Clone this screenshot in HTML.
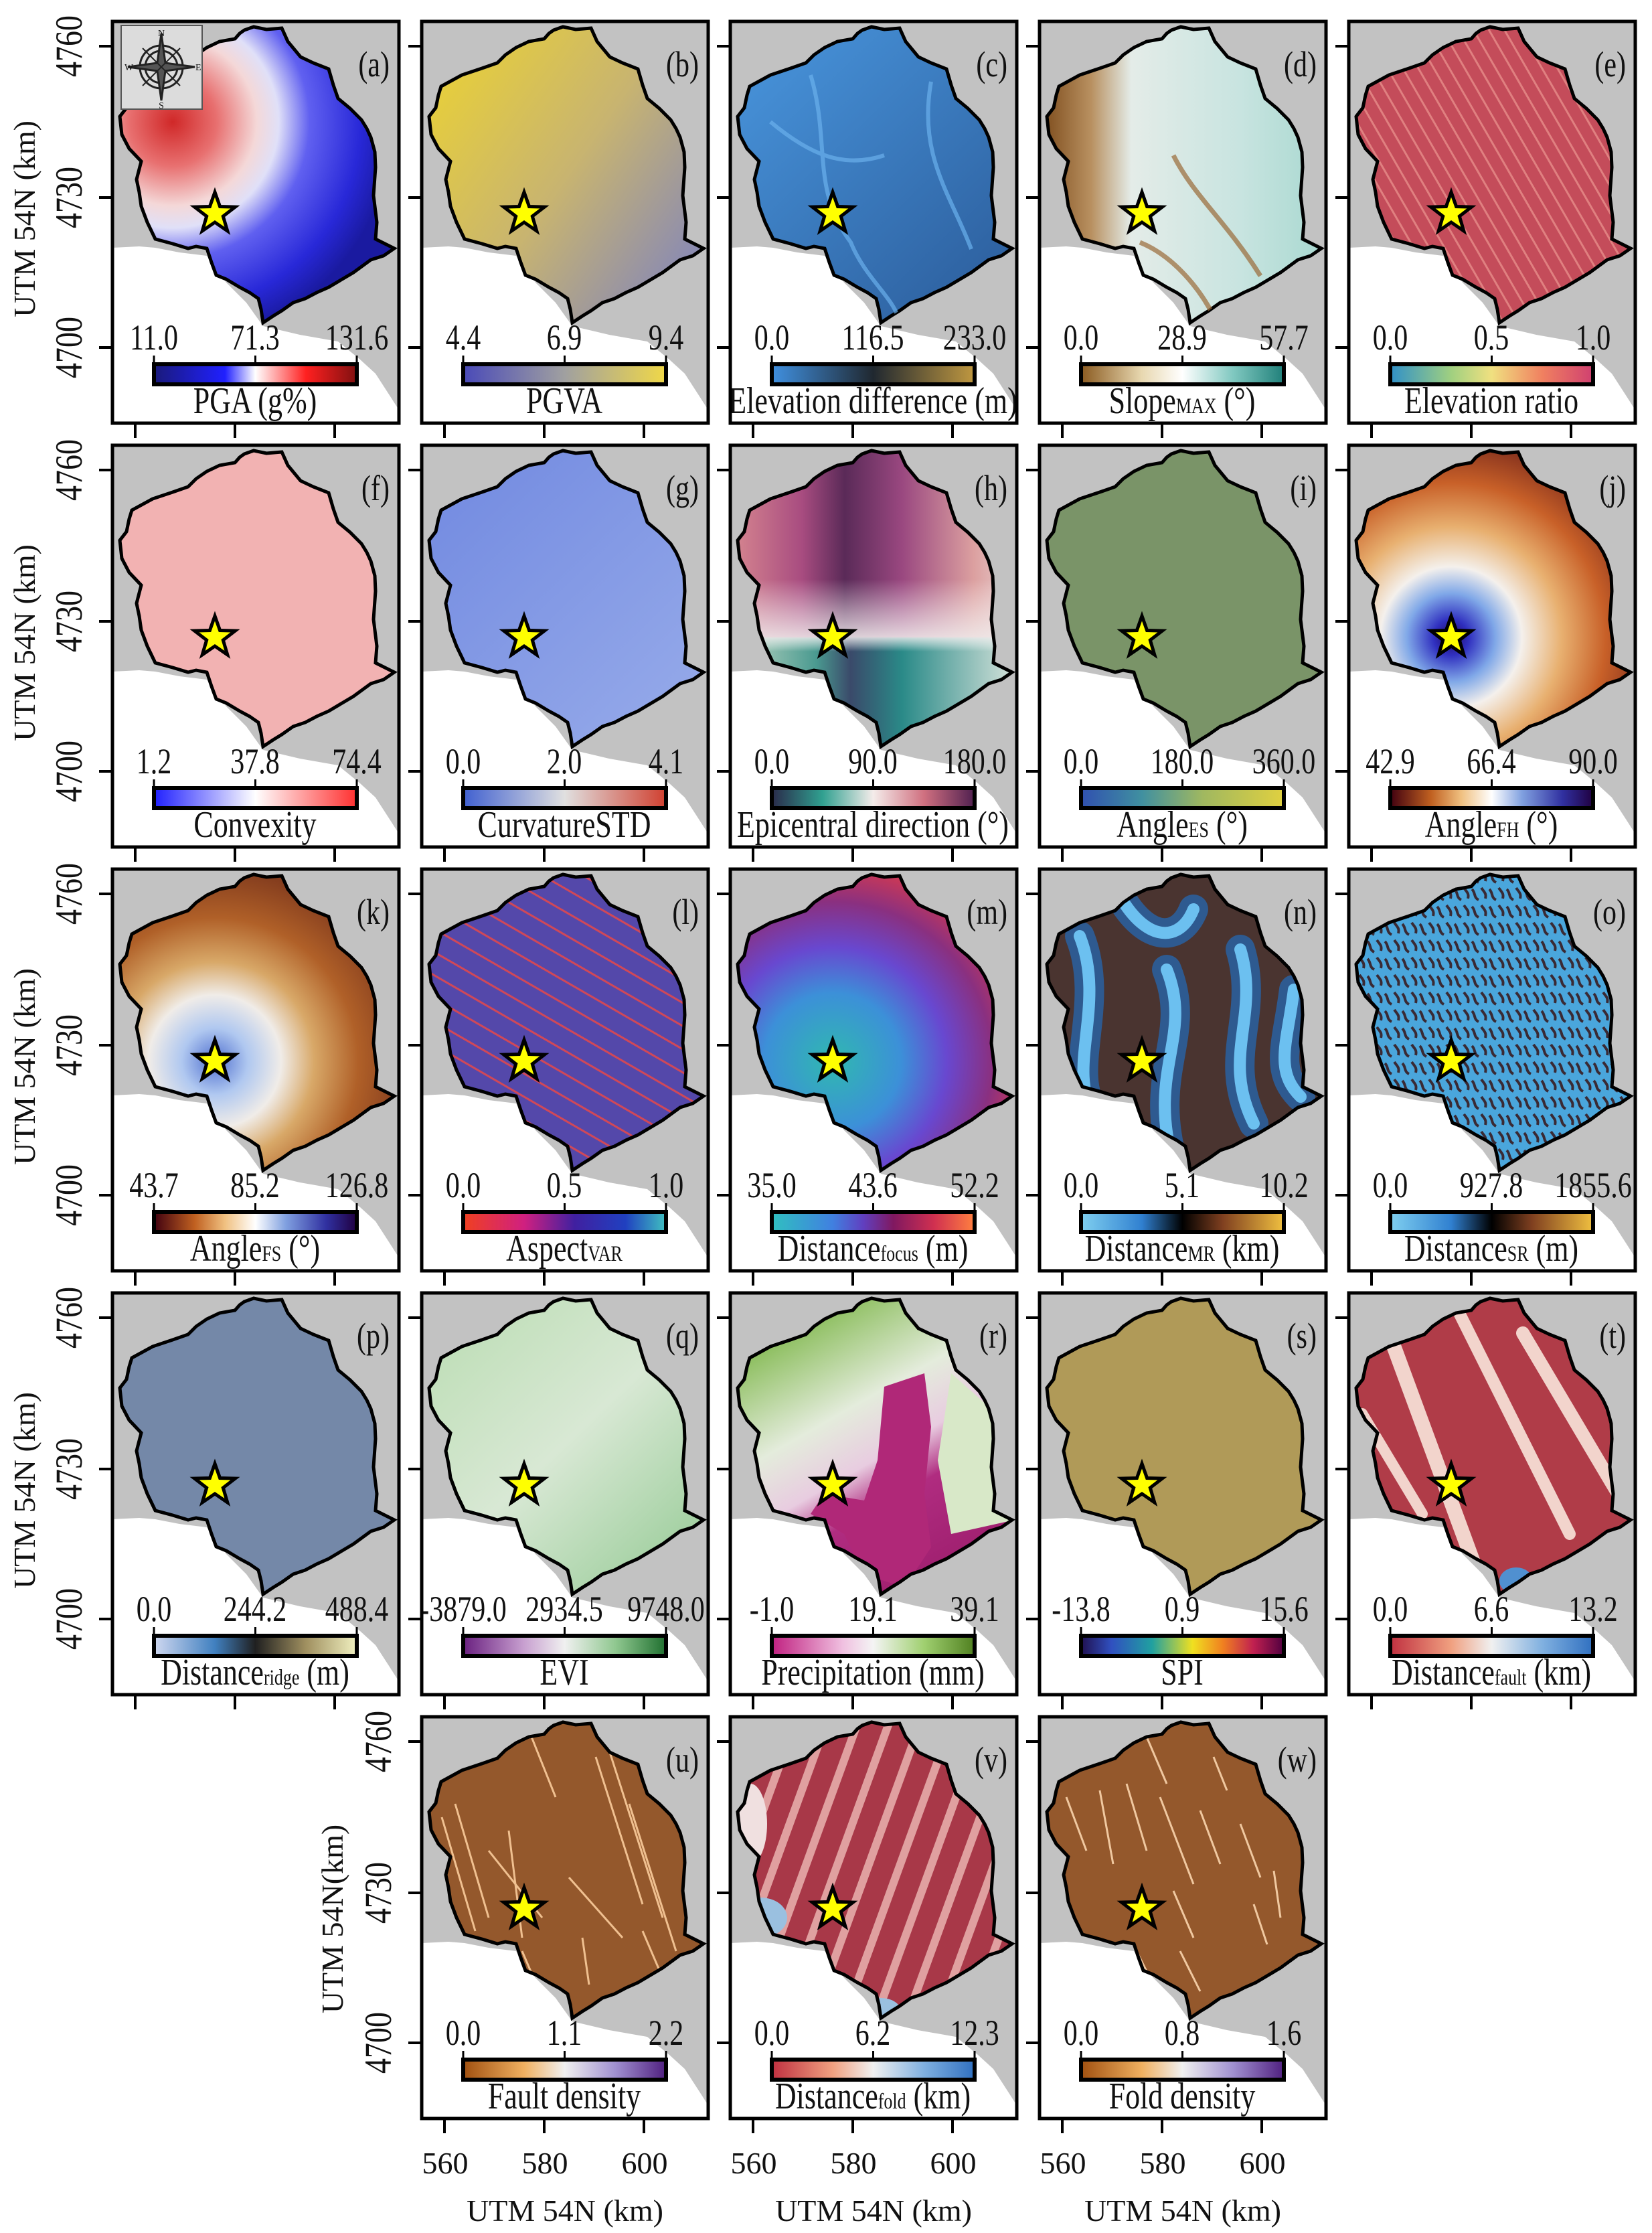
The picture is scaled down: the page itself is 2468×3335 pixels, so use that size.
<!DOCTYPE html>
<html><head><meta charset="utf-8"><style>
html,body{margin:0;padding:0;background:#fff}
svg{display:block}
text{font-family:"Liberation Serif",serif;fill:#111}
.tk{font-size:42px;text-anchor:middle}
.lb{font-size:44px;text-anchor:middle}
.pl{font-size:42px;text-anchor:end}
.tk,.lb,.pl{transform-box:fill-box;transform-origin:50% 80%;transform:scaleY(1.28)}
.ax{font-size:46px;text-anchor:middle}
</style></head><body>
<svg width="2468" height="3335" viewBox="0 0 2468 3335" xmlns="http://www.w3.org/2000/svg">
<defs>
<path id="cat" d="M211,8 L230,12 L253,10 L262,30 L281,53 L300,62 L323,71 L330,95 L337,115 L355,130 L372,147 L380,160 L386,173 L392,195 L393,218 L390,260 L395,300 L393,325 L421,339 L405,350 L386,356 L360,375 L323,397 L305,405 L288,414 L270,420 L253,432 L240,440 L225,450 L222,430 L218,414 L205,405 L190,397 L170,385 L155,379 L148,360 L141,339 L125,336 L113,339 L90,332 L64,325 L52,300 L43,276 L40,255 L36,236 L43,209 L25,190 L14,169 L11,142 L21,129 L25,110 L29,97 L60,80 L90,70 L113,62 L125,50 L141,39 L160,30 L183,26 L190,18 L197,13 Z"/>
<path id="sea" d="M0,338 L40,336 L64,338 L100,345 L141,350 L170,390 L200,420 L225,455 L280,468 L337,478 L370,505 L393,526 L415,560 L431,585 L431,605 L-3,605 Z"/>
<polygon id="star" points="153,255 160.6,276.5 183.4,277.1 165.3,291 171.8,312.9 153,300 134.2,312.9 140.7,291 122.6,277.1 145.4,276.5" fill="#ffff00" stroke="#000" stroke-width="5" stroke-linejoin="miter"/>
<clipPath id="cc"><use href="#cat"/></clipPath>
<g id="frame"><rect width="428" height="600" fill="none" stroke="#000" stroke-width="5"/><path d="M34,600v22M183,600v22M332,600v22M0,37h-20M0,263h-20M0,487h-20" stroke="#000" stroke-width="4"/></g>
<path id="cbt" d="M62,512V499M213.5,512V499M365,512V499" stroke="#000" stroke-width="3"/>
<radialGradient id="fa" gradientUnits="userSpaceOnUse" cx="90" cy="150" r="330"><stop offset="0" stop-color="#d02828"/><stop offset=".2" stop-color="#e87070"/><stop offset=".38" stop-color="#f4d8d8"/><stop offset=".48" stop-color="#e0e0f8"/><stop offset=".62" stop-color="#6060f0"/><stop offset=".85" stop-color="#2828d8"/><stop offset="1" stop-color="#1a1aa0"/></radialGradient>
<linearGradient id="fb" gradientUnits="userSpaceOnUse" x1="40" y1="100" x2="400" y2="350"><stop offset="0" stop-color="#e4cc40"/><stop offset=".5" stop-color="#c8b470"/><stop offset="1" stop-color="#8c8cb0"/></linearGradient>
<linearGradient id="fc" gradientUnits="userSpaceOnUse" x1="0" y1="0" x2="428" y2="450"><stop offset="0" stop-color="#4a98e0"/><stop offset="1" stop-color="#2a5a98"/></linearGradient>
<linearGradient id="fd" gradientUnits="userSpaceOnUse" x1="0" y1="0" x2="428" y2="0"><stop offset="0" stop-color="#7a4818"/><stop offset=".18" stop-color="#b89060"/><stop offset=".32" stop-color="#e4ece8"/><stop offset=".7" stop-color="#c8e4e0"/><stop offset="1" stop-color="#a8d8d0"/></linearGradient>
<linearGradient id="fg" gradientUnits="userSpaceOnUse" x1="0" y1="0" x2="428" y2="450"><stop offset="0" stop-color="#7088e0"/><stop offset="1" stop-color="#98acea"/></linearGradient>
<linearGradient id="fht" gradientUnits="userSpaceOnUse" x1="0" y1="0" x2="428" y2="0"><stop offset="0" stop-color="#d88890"/><stop offset=".25" stop-color="#a84c80"/><stop offset=".4" stop-color="#5a2a58"/><stop offset=".6" stop-color="#9a4880"/><stop offset=".85" stop-color="#dca0a0"/><stop offset="1" stop-color="#e8d0d0"/></linearGradient>
<linearGradient id="fhb" gradientUnits="userSpaceOnUse" x1="0" y1="0" x2="428" y2="0"><stop offset="0" stop-color="#c8dcc8"/><stop offset=".3" stop-color="#4a9a90"/><stop offset=".42" stop-color="#3a4a6a"/><stop offset=".6" stop-color="#2a8a88"/><stop offset="1" stop-color="#d8e4dc"/></linearGradient>
<linearGradient id="fhv" gradientUnits="userSpaceOnUse" x1="0" y1="200" x2="0" y2="380"><stop offset="0" stop-color="#fff" stop-opacity="0"/><stop offset=".48" stop-color="#f0ecec" stop-opacity=".85"/><stop offset=".6" stop-color="#fff" stop-opacity="0"/></linearGradient>
<radialGradient id="fj" gradientUnits="userSpaceOnUse" cx="153" cy="287" r="330"><stop offset="0" stop-color="#200860"/><stop offset=".08" stop-color="#3030c0"/><stop offset=".2" stop-color="#80a8e8"/><stop offset=".32" stop-color="#f4f0ec"/><stop offset=".5" stop-color="#e8b070"/><stop offset=".7" stop-color="#c86028"/><stop offset="1" stop-color="#601818"/></radialGradient>
<radialGradient id="fk" gradientUnits="userSpaceOnUse" cx="153" cy="287" r="330"><stop offset="0" stop-color="#5070d0"/><stop offset=".15" stop-color="#b0c8f0"/><stop offset=".3" stop-color="#f0ece8"/><stop offset=".45" stop-color="#d8a868"/><stop offset=".65" stop-color="#b06028"/><stop offset="1" stop-color="#6a2818"/></radialGradient>
<radialGradient id="fm" gradientUnits="userSpaceOnUse" cx="153" cy="287" r="340"><stop offset="0" stop-color="#30b8b0"/><stop offset=".3" stop-color="#3c90d8"/><stop offset=".5" stop-color="#6848d0"/><stop offset=".7" stop-color="#8a3080"/><stop offset=".85" stop-color="#c83858"/><stop offset="1" stop-color="#f05040"/></radialGradient>
<linearGradient id="fq" gradientUnits="userSpaceOnUse" x1="0" y1="0" x2="428" y2="450"><stop offset="0" stop-color="#b8dcb0"/><stop offset=".5" stop-color="#d8e8d4"/><stop offset="1" stop-color="#90c890"/></linearGradient>
<linearGradient id="fr" gradientUnits="userSpaceOnUse" x1="40" y1="80" x2="250" y2="450"><stop offset="0" stop-color="#88bc58"/><stop offset=".35" stop-color="#e4ecdc"/><stop offset=".55" stop-color="#e8cce0"/><stop offset=".7" stop-color="#b02c80"/><stop offset="1" stop-color="#a02070"/></linearGradient>
<pattern id="po" width="26" height="26" patternUnits="userSpaceOnUse"><rect width="26" height="26" fill="#4aa6dc"/><path d="M2,4 C8,10 4,16 12,20 M16,2 C20,8 24,10 22,18" stroke="#3a2a34" stroke-width="4" fill="none"/></pattern>
<pattern id="pl" width="30" height="30" patternUnits="userSpaceOnUse" patternTransform="rotate(30)"><rect width="30" height="30" fill="#5448aa"/><path d="M0,8 H30" stroke="#d04858" stroke-width="3"/></pattern>
<pattern id="pv" width="44" height="44" patternUnits="userSpaceOnUse" patternTransform="rotate(20)"><rect width="44" height="44" fill="#a83848"/><rect x="0" y="0" width="12" height="44" fill="#e0a0a0"/></pattern>
<pattern id="pe" width="20" height="20" patternUnits="userSpaceOnUse" patternTransform="rotate(60)"><rect width="20" height="20" fill="#c44c5a"/><path d="M0,5 H20" stroke="#e08080" stroke-width="3"/></pattern>
<linearGradient id="ca"><stop offset="0" stop-color="#1a1a7a"/><stop offset=".35" stop-color="#2020ff"/><stop offset=".5" stop-color="#fff"/><stop offset=".75" stop-color="#ff2020"/><stop offset="1" stop-color="#801010"/></linearGradient>
<linearGradient id="cb"><stop offset="0" stop-color="#4a4ab8"/><stop offset=".5" stop-color="#a0a0a0"/><stop offset="1" stop-color="#f0d848"/></linearGradient>
<linearGradient id="cc2"><stop offset="0" stop-color="#4090e0"/><stop offset=".5" stop-color="#202830"/><stop offset="1" stop-color="#c09840"/></linearGradient>
<linearGradient id="cd"><stop offset="0" stop-color="#8a5a20"/><stop offset=".3" stop-color="#e8d8b0"/><stop offset=".5" stop-color="#fff"/><stop offset=".75" stop-color="#80c8c0"/><stop offset="1" stop-color="#20807a"/></linearGradient>
<linearGradient id="ce"><stop offset="0" stop-color="#3090c8"/><stop offset=".3" stop-color="#a0d080"/><stop offset=".5" stop-color="#f0e080"/><stop offset=".75" stop-color="#f08060"/><stop offset="1" stop-color="#d04070"/></linearGradient>
<linearGradient id="cf"><stop offset="0" stop-color="#2020ff"/><stop offset=".5" stop-color="#fff"/><stop offset="1" stop-color="#ff3030"/></linearGradient>
<linearGradient id="cg"><stop offset="0" stop-color="#4060d0"/><stop offset=".5" stop-color="#e0e0e0"/><stop offset="1" stop-color="#d04030"/></linearGradient>
<linearGradient id="ch"><stop offset="0" stop-color="#2a2a4a"/><stop offset=".25" stop-color="#30a090"/><stop offset=".5" stop-color="#f4ecea"/><stop offset=".75" stop-color="#d07080"/><stop offset="1" stop-color="#502050"/></linearGradient>
<linearGradient id="ci"><stop offset="0" stop-color="#3050b0"/><stop offset=".3" stop-color="#4090a0"/><stop offset=".6" stop-color="#a0b860"/><stop offset="1" stop-color="#e0d040"/></linearGradient>
<linearGradient id="cj"><stop offset="0" stop-color="#400010"/><stop offset=".2" stop-color="#c06020"/><stop offset=".35" stop-color="#f0c080"/><stop offset=".5" stop-color="#fff"/><stop offset=".65" stop-color="#80a0e0"/><stop offset=".85" stop-color="#3030a0"/><stop offset="1" stop-color="#200040"/></linearGradient>
<linearGradient id="cl"><stop offset="0" stop-color="#f04020"/><stop offset=".3" stop-color="#d02080"/><stop offset=".55" stop-color="#4020a0"/><stop offset=".8" stop-color="#2040c0"/><stop offset="1" stop-color="#40c0c0"/></linearGradient>
<linearGradient id="cm"><stop offset="0" stop-color="#30c0c0"/><stop offset=".3" stop-color="#4080e0"/><stop offset=".45" stop-color="#6040c0"/><stop offset=".6" stop-color="#801860"/><stop offset=".8" stop-color="#d03050"/><stop offset="1" stop-color="#ff8040"/></linearGradient>
<linearGradient id="cn"><stop offset="0" stop-color="#80d0f0"/><stop offset=".3" stop-color="#3080d0"/><stop offset=".5" stop-color="#000"/><stop offset=".7" stop-color="#804020"/><stop offset="1" stop-color="#f0c040"/></linearGradient>
<linearGradient id="cp"><stop offset="0" stop-color="#d0d8f0"/><stop offset=".3" stop-color="#4080c0"/><stop offset=".5" stop-color="#202020"/><stop offset=".75" stop-color="#a09060"/><stop offset="1" stop-color="#f0f0c0"/></linearGradient>
<linearGradient id="cq"><stop offset="0" stop-color="#6a2080"/><stop offset=".3" stop-color="#c8a0d0"/><stop offset=".5" stop-color="#f0f0f0"/><stop offset=".75" stop-color="#90c890"/><stop offset="1" stop-color="#207030"/></linearGradient>
<linearGradient id="cr"><stop offset="0" stop-color="#c02080"/><stop offset=".35" stop-color="#f0c0e0"/><stop offset=".5" stop-color="#f4f4f4"/><stop offset=".75" stop-color="#a0d070"/><stop offset="1" stop-color="#508020"/></linearGradient>
<linearGradient id="cs"><stop offset="0" stop-color="#201050"/><stop offset=".15" stop-color="#3050c0"/><stop offset=".35" stop-color="#20a0a0"/><stop offset=".55" stop-color="#f0e020"/><stop offset=".7" stop-color="#f08020"/><stop offset=".85" stop-color="#c02050"/><stop offset="1" stop-color="#500040"/></linearGradient>
<linearGradient id="ct"><stop offset="0" stop-color="#c03040"/><stop offset=".3" stop-color="#f0a080"/><stop offset=".5" stop-color="#f0f0f0"/><stop offset=".75" stop-color="#80b0e0"/><stop offset="1" stop-color="#3070c0"/></linearGradient>
<linearGradient id="cu"><stop offset="0" stop-color="#a05010"/><stop offset=".3" stop-color="#f0b060"/><stop offset=".5" stop-color="#f0f0f0"/><stop offset=".75" stop-color="#a090d0"/><stop offset="1" stop-color="#502080"/></linearGradient>
</defs>

<g>
<text class="ax" transform="translate(52,327) rotate(-90)">UTM 54N (km)</text>
<text class="ax" transform="translate(52,960) rotate(-90)">UTM 54N (km)</text>
<text class="ax" transform="translate(52,1593) rotate(-90)">UTM 54N (km)</text>
<text class="ax" transform="translate(52,2226) rotate(-90)">UTM 54N (km)</text>
<text class="ax" transform="translate(512,2866) rotate(-90)">UTM 54N(km)</text>
</g>
<g>
<text class="ax" transform="translate(122,69) rotate(-90) scale(1,1.25)">4760</text><text class="ax" transform="translate(122,295) rotate(-90) scale(1,1.25)">4730</text><text class="ax" transform="translate(122,519) rotate(-90) scale(1,1.25)">4700</text>
<text class="ax" transform="translate(122,702) rotate(-90) scale(1,1.25)">4760</text><text class="ax" transform="translate(122,928) rotate(-90) scale(1,1.25)">4730</text><text class="ax" transform="translate(122,1152) rotate(-90) scale(1,1.25)">4700</text>
<text class="ax" transform="translate(122,1335) rotate(-90) scale(1,1.25)">4760</text><text class="ax" transform="translate(122,1561) rotate(-90) scale(1,1.25)">4730</text><text class="ax" transform="translate(122,1785) rotate(-90) scale(1,1.25)">4700</text>
<text class="ax" transform="translate(122,1968) rotate(-90) scale(1,1.25)">4760</text><text class="ax" transform="translate(122,2194) rotate(-90) scale(1,1.25)">4730</text><text class="ax" transform="translate(122,2418) rotate(-90) scale(1,1.25)">4700</text>
<text class="ax" transform="translate(584,2601) rotate(-90) scale(1,1.25)">4760</text><text class="ax" transform="translate(584,2827) rotate(-90) scale(1,1.25)">4730</text><text class="ax" transform="translate(584,3051) rotate(-90) scale(1,1.25)">4700</text>
</g>
<g>
<text class="ax" x="665" y="3246">560</text><text class="ax" x="814" y="3246">580</text><text class="ax" x="963" y="3246">600</text>
<text class="ax" x="1126" y="3246">560</text><text class="ax" x="1275" y="3246">580</text><text class="ax" x="1424" y="3246">600</text>
<text class="ax" x="1588" y="3246">560</text><text class="ax" x="1737" y="3246">580</text><text class="ax" x="1886" y="3246">600</text>
<text class="ax" x="844" y="3317">UTM 54N (km)</text>
<text class="ax" x="1305" y="3317">UTM 54N (km)</text>
<text class="ax" x="1767" y="3317">UTM 54N (km)</text>
</g>

<g transform="translate(168,32)">
<rect width="428" height="600" fill="#c2c2c2"/><use href="#sea" fill="#fff"/>
<use href="#cat" fill="url(#fa)" stroke="#000" stroke-width="5"/>
<rect x="13" y="6" width="121" height="125" fill="#dcdcdc" stroke="#555" stroke-width="2"/>
<g transform="translate(73,68)" stroke="#222" fill="none" stroke-width="3"><circle r="32"/><circle r="24"/><path d="M0,-50 L6,-6 L50,0 L6,6 L0,50 L-6,6 L-50,0 L-6,-6 Z" fill="#555"/><path d="M-28,-28 L28,28 M28,-28 L-28,28" stroke-width="2"/></g>
<text x="73" y="22" font-size="14" text-anchor="middle">N</text><text x="73" y="130" font-size="14" text-anchor="middle">S</text><text x="18" y="73" font-size="14">W</text><text x="124" y="73" font-size="14">E</text>
<use href="#star"/>
<text class="pl" x="414" y="82">(a)</text>
<rect x="62" y="512" width="303" height="30" fill="url(#ca)" stroke="#000" stroke-width="6"/><use href="#cbt"/>
<text class="tk" x="62" y="490">11.0</text><text class="tk" x="213" y="490">71.3</text><text class="tk" x="365" y="490">131.6</text>
<text class="lb" x="213" y="585">PGA (g%)</text>
<use href="#frame"/></g>

<g transform="translate(630,32)">
<rect width="428" height="600" fill="#c2c2c2"/><use href="#sea" fill="#fff"/>
<use href="#cat" fill="url(#fb)" stroke="#000" stroke-width="5"/>
<use href="#star"/><text class="pl" x="414" y="82">(b)</text>
<rect x="62" y="512" width="303" height="30" fill="url(#cb)" stroke="#000" stroke-width="6"/><use href="#cbt"/>
<text class="tk" x="62" y="490">4.4</text><text class="tk" x="213" y="490">6.9</text><text class="tk" x="365" y="490">9.4</text>
<text class="lb" x="213" y="585">PGVA</text>
<use href="#frame"/></g>

<g transform="translate(1091,32)">
<rect width="428" height="600" fill="#c2c2c2"/><use href="#sea" fill="#fff"/>
<use href="#cat" fill="url(#fc)" stroke="#000" stroke-width="5"/>
<g clip-path="url(#cc)" stroke="#6ab0ec" stroke-width="6" fill="none" opacity=".7"><path d="M120,80 C150,180 120,250 180,330 C200,380 240,410 250,440"/><path d="M300,90 C280,200 330,260 360,340"/><path d="M60,150 C120,200 170,220 230,200"/></g>
<use href="#star"/><text class="pl" x="414" y="82">(c)</text>
<rect x="62" y="512" width="303" height="30" fill="url(#cc2)" stroke="#000" stroke-width="6"/><use href="#cbt"/>
<text class="tk" x="62" y="490">0.0</text><text class="tk" x="213" y="490">116.5</text><text class="tk" x="365" y="490">233.0</text>
<text class="lb" x="213" y="585">Elevation difference (m)</text>
<use href="#frame"/></g>

<g transform="translate(1553,32)">
<rect width="428" height="600" fill="#c2c2c2"/><use href="#sea" fill="#fff"/>
<use href="#cat" fill="url(#fd)" stroke="#000" stroke-width="5"/>
<g clip-path="url(#cc)" stroke="#9a6a38" stroke-width="7" fill="none" opacity=".7"><path d="M150,330 C200,350 240,400 260,440"/><path d="M200,200 C230,260 280,300 330,380"/></g>
<use href="#star"/><text class="pl" x="414" y="82">(d)</text>
<rect x="62" y="512" width="303" height="30" fill="url(#cd)" stroke="#000" stroke-width="6"/><use href="#cbt"/>
<text class="tk" x="62" y="490">0.0</text><text class="tk" x="213" y="490">28.9</text><text class="tk" x="365" y="490">57.7</text>
<text class="lb" x="213" y="585">Slope<tspan font-size="26">MAX</tspan> (°)</text>
<use href="#frame"/></g>

<g transform="translate(2015,32)">
<rect width="428" height="600" fill="#c2c2c2"/><use href="#sea" fill="#fff"/>
<use href="#cat" fill="url(#pe)" stroke="#000" stroke-width="5"/>
<use href="#star"/><text class="pl" x="414" y="82">(e)</text>
<rect x="62" y="512" width="303" height="30" fill="url(#ce)" stroke="#000" stroke-width="6"/><use href="#cbt"/>
<text class="tk" x="62" y="490">0.0</text><text class="tk" x="213" y="490">0.5</text><text class="tk" x="365" y="490">1.0</text>
<text class="lb" x="213" y="585">Elevation ratio</text>
<use href="#frame"/></g>

<g transform="translate(168,665)">
<rect width="428" height="600" fill="#c2c2c2"/><use href="#sea" fill="#fff"/>
<use href="#cat" fill="#f2b2b2" stroke="#000" stroke-width="5"/>
<use href="#star"/><text class="pl" x="414" y="82">(f)</text>
<rect x="62" y="512" width="303" height="30" fill="url(#cf)" stroke="#000" stroke-width="6"/><use href="#cbt"/>
<text class="tk" x="62" y="490">1.2</text><text class="tk" x="213" y="490">37.8</text><text class="tk" x="365" y="490">74.4</text>
<text class="lb" x="213" y="585">Convexity</text>
<use href="#frame"/></g>

<g transform="translate(630,665)">
<rect width="428" height="600" fill="#c2c2c2"/><use href="#sea" fill="#fff"/>
<use href="#cat" fill="url(#fg)" stroke="#000" stroke-width="5"/>
<use href="#star"/><text class="pl" x="414" y="82">(g)</text>
<rect x="62" y="512" width="303" height="30" fill="url(#cg)" stroke="#000" stroke-width="6"/><use href="#cbt"/>
<text class="tk" x="62" y="490">0.0</text><text class="tk" x="213" y="490">2.0</text><text class="tk" x="365" y="490">4.1</text>
<text class="lb" x="213" y="585">CurvatureSTD</text>
<use href="#frame"/></g>

<g transform="translate(1091,665)">
<rect width="428" height="600" fill="#c2c2c2"/><use href="#sea" fill="#fff"/>
<g clip-path="url(#cc)"><rect width="428" height="287" fill="url(#fht)"/><rect y="287" width="428" height="313" fill="url(#fhb)"/><rect width="428" height="600" fill="url(#fhv)"/></g>
<use href="#cat" fill="none" stroke="#000" stroke-width="5"/>
<use href="#star"/><text class="pl" x="414" y="82">(h)</text>
<rect x="62" y="512" width="303" height="30" fill="url(#ch)" stroke="#000" stroke-width="6"/><use href="#cbt"/>
<text class="tk" x="62" y="490">0.0</text><text class="tk" x="213" y="490">90.0</text><text class="tk" x="365" y="490">180.0</text>
<text class="lb" x="213" y="585">Epicentral direction (°)</text>
<use href="#frame"/></g>

<g transform="translate(1553,665)">
<rect width="428" height="600" fill="#c2c2c2"/><use href="#sea" fill="#fff"/>
<use href="#cat" fill="#7a9468" stroke="#000" stroke-width="5"/>
<use href="#star"/><text class="pl" x="414" y="82">(i)</text>
<rect x="62" y="512" width="303" height="30" fill="url(#ci)" stroke="#000" stroke-width="6"/><use href="#cbt"/>
<text class="tk" x="62" y="490">0.0</text><text class="tk" x="213" y="490">180.0</text><text class="tk" x="365" y="490">360.0</text>
<text class="lb" x="213" y="585">Angle<tspan font-size="26">ES</tspan> (°)</text>
<use href="#frame"/></g>

<g transform="translate(2015,665)">
<rect width="428" height="600" fill="#c2c2c2"/><use href="#sea" fill="#fff"/>
<use href="#cat" fill="url(#fj)" stroke="#000" stroke-width="5"/>
<use href="#star"/><text class="pl" x="414" y="82">(j)</text>
<rect x="62" y="512" width="303" height="30" fill="url(#cj)" stroke="#000" stroke-width="6"/><use href="#cbt"/>
<text class="tk" x="62" y="490">42.9</text><text class="tk" x="213" y="490">66.4</text><text class="tk" x="365" y="490">90.0</text>
<text class="lb" x="213" y="585">Angle<tspan font-size="26">FH</tspan> (°)</text>
<use href="#frame"/></g>

<g transform="translate(168,1298)">
<rect width="428" height="600" fill="#c2c2c2"/><use href="#sea" fill="#fff"/>
<use href="#cat" fill="url(#fk)" stroke="#000" stroke-width="5"/>
<use href="#star"/><text class="pl" x="414" y="82">(k)</text>
<rect x="62" y="512" width="303" height="30" fill="url(#cj)" stroke="#000" stroke-width="6"/><use href="#cbt"/>
<text class="tk" x="62" y="490">43.7</text><text class="tk" x="213" y="490">85.2</text><text class="tk" x="365" y="490">126.8</text>
<text class="lb" x="213" y="585">Angle<tspan font-size="26">FS</tspan> (°)</text>
<use href="#frame"/></g>

<g transform="translate(630,1298)">
<rect width="428" height="600" fill="#c2c2c2"/><use href="#sea" fill="#fff"/>
<use href="#cat" fill="url(#pl)" stroke="#000" stroke-width="5"/>
<use href="#star"/><text class="pl" x="414" y="82">(l)</text>
<rect x="62" y="512" width="303" height="30" fill="url(#cl)" stroke="#000" stroke-width="6"/><use href="#cbt"/>
<text class="tk" x="62" y="490">0.0</text><text class="tk" x="213" y="490">0.5</text><text class="tk" x="365" y="490">1.0</text>
<text class="lb" x="213" y="585">Aspect<tspan font-size="26">VAR</tspan></text>
<use href="#frame"/></g>

<g transform="translate(1091,1298)">
<rect width="428" height="600" fill="#c2c2c2"/><use href="#sea" fill="#fff"/>
<use href="#cat" fill="url(#fm)" stroke="#000" stroke-width="5"/>
<use href="#star"/><text class="pl" x="414" y="82">(m)</text>
<rect x="62" y="512" width="303" height="30" fill="url(#cm)" stroke="#000" stroke-width="6"/><use href="#cbt"/>
<text class="tk" x="62" y="490">35.0</text><text class="tk" x="213" y="490">43.6</text><text class="tk" x="365" y="490">52.2</text>
<text class="lb" x="213" y="585">Distance<tspan font-size="26">focus</tspan> (m)</text>
<use href="#frame"/></g>

<g transform="translate(1553,1298)">
<rect width="428" height="600" fill="#c2c2c2"/><use href="#sea" fill="#fff"/>
<use href="#cat" fill="#4a3430"/>
<g clip-path="url(#cc)" fill="none" stroke-linecap="round"><g stroke="#2e5a90" stroke-width="44"><path d="M60,100 C100,200 40,300 80,360"/><path d="M120,40 C160,110 210,110 230,60"/><path d="M190,150 C230,250 160,300 200,440"/><path d="M300,120 C330,220 270,280 320,380"/><path d="M380,180 C370,260 350,300 390,340"/></g><g stroke="#6cc0f0" stroke-width="18"><path d="M60,100 C100,200 40,300 80,360"/><path d="M120,40 C160,110 210,110 230,60"/><path d="M190,150 C230,250 160,300 200,440"/><path d="M300,120 C330,220 270,280 320,380"/><path d="M380,180 C370,260 350,300 390,340"/></g></g>
<use href="#cat" fill="none" stroke="#000" stroke-width="5"/>
<use href="#star"/><text class="pl" x="414" y="82">(n)</text>
<rect x="62" y="512" width="303" height="30" fill="url(#cn)" stroke="#000" stroke-width="6"/><use href="#cbt"/>
<text class="tk" x="62" y="490">0.0</text><text class="tk" x="213" y="490">5.1</text><text class="tk" x="365" y="490">10.2</text>
<text class="lb" x="213" y="585">Distance<tspan font-size="26">MR</tspan> (km)</text>
<use href="#frame"/></g>

<g transform="translate(2015,1298)">
<rect width="428" height="600" fill="#c2c2c2"/><use href="#sea" fill="#fff"/>
<use href="#cat" fill="url(#po)" stroke="#000" stroke-width="5"/>
<use href="#star"/><text class="pl" x="414" y="82">(o)</text>
<rect x="62" y="512" width="303" height="30" fill="url(#cn)" stroke="#000" stroke-width="6"/><use href="#cbt"/>
<text class="tk" x="62" y="490">0.0</text><text class="tk" x="213" y="490">927.8</text><text class="tk" x="365" y="490">1855.6</text>
<text class="lb" x="213" y="585">Distance<tspan font-size="26">SR</tspan> (m)</text>
<use href="#frame"/></g>

<g transform="translate(168,1931)">
<rect width="428" height="600" fill="#c2c2c2"/><use href="#sea" fill="#fff"/>
<use href="#cat" fill="#7488a8" stroke="#000" stroke-width="5"/>
<use href="#star"/><text class="pl" x="414" y="82">(p)</text>
<rect x="62" y="512" width="303" height="30" fill="url(#cp)" stroke="#000" stroke-width="6"/><use href="#cbt"/>
<text class="tk" x="62" y="490">0.0</text><text class="tk" x="213" y="490">244.2</text><text class="tk" x="365" y="490">488.4</text>
<text class="lb" x="213" y="585">Distance<tspan font-size="26">ridge</tspan> (m)</text>
<use href="#frame"/></g>

<g transform="translate(630,1931)">
<rect width="428" height="600" fill="#c2c2c2"/><use href="#sea" fill="#fff"/>
<use href="#cat" fill="url(#fq)" stroke="#000" stroke-width="5"/>
<use href="#star"/><text class="pl" x="414" y="82">(q)</text>
<rect x="62" y="512" width="303" height="30" fill="url(#cq)" stroke="#000" stroke-width="6"/><use href="#cbt"/>
<text class="tk" x="62" y="490">-3879.0</text><text class="tk" x="213" y="490">2934.5</text><text class="tk" x="365" y="490">9748.0</text>
<text class="lb" x="213" y="585">EVI</text>
<use href="#frame"/></g>

<g transform="translate(1091,1931)">
<rect width="428" height="600" fill="#c2c2c2"/><use href="#sea" fill="#fff"/>
<use href="#cat" fill="url(#fr)"/>
<g clip-path="url(#cc)"><path d="M230,140 L290,120 L300,200 L290,300 L300,380 L260,440 L200,420 L170,360 L120,330 L140,300 L200,310 L220,250 Z" fill="#b02878"/><path d="M330,120 L420,200 L420,340 L330,360 L310,250 Z" fill="#d8e8c8"/></g>
<use href="#cat" fill="none" stroke="#000" stroke-width="5"/>
<use href="#star"/><text class="pl" x="414" y="82">(r)</text>
<rect x="62" y="512" width="303" height="30" fill="url(#cr)" stroke="#000" stroke-width="6"/><use href="#cbt"/>
<text class="tk" x="62" y="490">-1.0</text><text class="tk" x="213" y="490">19.1</text><text class="tk" x="365" y="490">39.1</text>
<text class="lb" x="213" y="585">Precipitation (mm)</text>
<use href="#frame"/></g>

<g transform="translate(1553,1931)">
<rect width="428" height="600" fill="#c2c2c2"/><use href="#sea" fill="#fff"/>
<use href="#cat" fill="#b09a58" stroke="#000" stroke-width="5"/>
<use href="#star"/><text class="pl" x="414" y="82">(s)</text>
<rect x="62" y="512" width="303" height="30" fill="url(#cs)" stroke="#000" stroke-width="6"/><use href="#cbt"/>
<text class="tk" x="62" y="490">-13.8</text><text class="tk" x="213" y="490">0.9</text><text class="tk" x="365" y="490">15.6</text>
<text class="lb" x="213" y="585">SPI</text>
<use href="#frame"/></g>

<g transform="translate(2015,1931)">
<rect width="428" height="600" fill="#c2c2c2"/><use href="#sea" fill="#fff"/>
<use href="#cat" fill="#b03c48"/>
<g clip-path="url(#cc)" fill="none" stroke="#f2d4cc" stroke-linecap="round"><path d="M60,60 L200,440" stroke-width="22"/><path d="M160,20 L330,360" stroke-width="18"/><path d="M260,60 L420,330" stroke-width="20"/><path d="M20,180 L110,330" stroke-width="16"/><ellipse cx="250" cy="430" rx="25" ry="20" fill="#5090d0" stroke="none"/></g>
<use href="#cat" fill="none" stroke="#000" stroke-width="5"/>
<use href="#star"/><text class="pl" x="414" y="82">(t)</text>
<rect x="62" y="512" width="303" height="30" fill="url(#ct)" stroke="#000" stroke-width="6"/><use href="#cbt"/>
<text class="tk" x="62" y="490">0.0</text><text class="tk" x="213" y="490">6.6</text><text class="tk" x="365" y="490">13.2</text>
<text class="lb" x="213" y="585">Distance<tspan font-size="26">fault</tspan> (km)</text>
<use href="#frame"/></g>

<g transform="translate(630,2564)">
<rect width="428" height="600" fill="#c2c2c2"/><use href="#sea" fill="#fff"/>
<use href="#cat" fill="#94582c"/>
<g clip-path="url(#cc)" stroke="#f0c090" stroke-width="3" fill="none"><path d="M30,150 L80,320"/><path d="M50,130 L100,300"/><path d="M160,20 L200,120"/><path d="M100,200 L180,300"/><path d="M130,170 L150,330"/><path d="M220,240 L300,330"/><path d="M260,60 L330,280"/><path d="M280,50 L360,300"/><path d="M310,130 L380,350"/><path d="M150,350 L180,420"/><path d="M330,320 L360,390"/><path d="M240,330 L250,400"/></g>
<use href="#cat" fill="none" stroke="#000" stroke-width="5"/>
<use href="#star"/><text class="pl" x="414" y="82">(u)</text>
<rect x="62" y="512" width="303" height="30" fill="url(#cu)" stroke="#000" stroke-width="6"/><use href="#cbt"/>
<text class="tk" x="62" y="490">0.0</text><text class="tk" x="213" y="490">1.1</text><text class="tk" x="365" y="490">2.2</text>
<text class="lb" x="213" y="585">Fault density</text>
<use href="#frame"/></g>

<g transform="translate(1091,2564)">
<rect width="428" height="600" fill="#c2c2c2"/><use href="#sea" fill="#fff"/>
<use href="#cat" fill="url(#pv)"/>
<g clip-path="url(#cc)"><ellipse cx="45" cy="300" rx="40" ry="30" fill="#9ac0e0"/><ellipse cx="225" cy="440" rx="30" ry="20" fill="#9ac0e0"/><ellipse cx="30" cy="160" rx="25" ry="60" fill="#f0e0e0"/></g>
<use href="#cat" fill="none" stroke="#000" stroke-width="5"/>
<use href="#star"/><text class="pl" x="414" y="82">(v)</text>
<rect x="62" y="512" width="303" height="30" fill="url(#ct)" stroke="#000" stroke-width="6"/><use href="#cbt"/>
<text class="tk" x="62" y="490">0.0</text><text class="tk" x="213" y="490">6.2</text><text class="tk" x="365" y="490">12.3</text>
<text class="lb" x="213" y="585">Distance<tspan font-size="26">fold</tspan> (km)</text>
<use href="#frame"/></g>

<g transform="translate(1553,2564)">
<rect width="428" height="600" fill="#c2c2c2"/><use href="#sea" fill="#fff"/>
<use href="#cat" fill="#94582c"/>
<g clip-path="url(#cc)" stroke="#f0c8a0" stroke-width="3" fill="none"><path d="M40,120 L70,200"/><path d="M90,110 L110,220"/><path d="M130,100 L160,200"/><path d="M160,30 L190,100"/><path d="M180,120 L230,250"/><path d="M200,260 L230,330"/><path d="M240,140 L270,220"/><path d="M260,60 L280,110"/><path d="M300,160 L330,240"/><path d="M320,280 L340,340"/><path d="M350,230 L360,300"/><path d="M140,340 L170,400"/><path d="M210,350 L240,410"/></g>
<use href="#cat" fill="none" stroke="#000" stroke-width="5"/>
<use href="#star"/><text class="pl" x="414" y="82">(w)</text>
<rect x="62" y="512" width="303" height="30" fill="url(#cu)" stroke="#000" stroke-width="6"/><use href="#cbt"/>
<text class="tk" x="62" y="490">0.0</text><text class="tk" x="213" y="490">0.8</text><text class="tk" x="365" y="490">1.6</text>
<text class="lb" x="213" y="585">Fold density</text>
<use href="#frame"/></g>
</svg>
</body></html>
